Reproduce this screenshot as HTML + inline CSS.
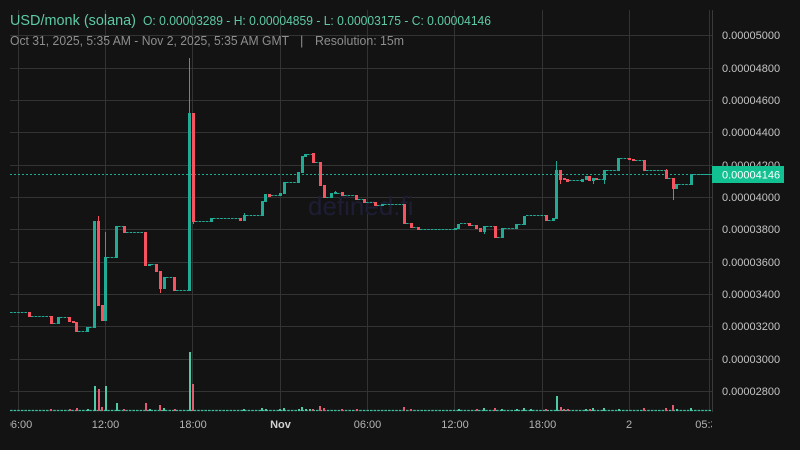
<!DOCTYPE html>
<html><head><meta charset="utf-8"><style>
html,body{margin:0;padding:0;background:#131313;}
svg{display:block;}
</style></head><body>
<svg width="800" height="450" xmlns="http://www.w3.org/2000/svg" font-family="Liberation Sans, sans-serif">
<defs>
<clipPath id="plot"><rect x="10" y="10" width="702" height="402"/></clipPath>
<clipPath id="tax"><rect x="10" y="412" width="702" height="30"/></clipPath>
</defs>
<rect width="800" height="450" fill="#131313"/>
<!-- grid -->
<g stroke="#333333" stroke-width="1">
<line x1="10" x2="712" y1="35.5" y2="35.5"/>
<line x1="10" x2="712" y1="68.5" y2="68.5"/>
<line x1="10" x2="712" y1="100.5" y2="100.5"/>
<line x1="10" x2="712" y1="132.5" y2="132.5"/>
<line x1="10" x2="712" y1="165.5" y2="165.5"/>
<line x1="10" x2="712" y1="197.5" y2="197.5"/>
<line x1="10" x2="712" y1="229.5" y2="229.5"/>
<line x1="10" x2="712" y1="262.5" y2="262.5"/>
<line x1="10" x2="712" y1="294.5" y2="294.5"/>
<line x1="10" x2="712" y1="326.5" y2="326.5"/>
<line x1="10" x2="712" y1="359.5" y2="359.5"/>
<line x1="10" x2="712" y1="391.5" y2="391.5"/>
<line x1="18.5" x2="18.5" y1="10" y2="411"/>
<line x1="105.5" x2="105.5" y1="10" y2="411"/>
<line x1="192.5" x2="192.5" y1="10" y2="411"/>
<line x1="280.5" x2="280.5" y1="10" y2="411"/>
<line x1="367.5" x2="367.5" y1="10" y2="411"/>
<line x1="454.5" x2="454.5" y1="10" y2="411"/>
<line x1="542.5" x2="542.5" y1="10" y2="411"/>
<line x1="629.5" x2="629.5" y1="10" y2="411"/>
<line x1="709.5" x2="709.5" y1="10" y2="411"/>
</g>
<line x1="712.5" x2="712.5" y1="10" y2="412" stroke="#3a3a3a"/>
<!-- watermark -->
<text x="308" y="215" font-size="26" fill="#1d1d36">defined.fi</text>

<g clip-path="url(#plot)">
<!-- volume baseline -->
<line x1="10" x2="712" y1="410.5" y2="410.5" stroke="#3fbf9f" stroke-width="1.2" stroke-dasharray="2.6 1"/>
<g fill="#4fc9a6">
<rect x="94" y="386" width="2" height="25"/><rect x="105" y="386" width="2" height="25"/>
<rect x="116" y="403" width="2" height="8"/><rect x="149" y="409" width="2" height="2"/>
<rect x="163" y="408" width="2" height="3"/><rect x="189" y="352" width="2" height="59"/>
<rect x="87" y="409" width="2" height="2"/><rect x="243" y="409" width="2" height="2"/>
<rect x="261" y="408" width="2" height="3"/><rect x="265" y="409" width="2" height="2"/>
<rect x="279" y="409" width="2" height="2"/><rect x="283" y="408" width="2" height="3"/>
<rect x="298" y="409" width="2" height="2"/><rect x="301" y="407" width="2" height="4"/>
<rect x="305" y="409" width="2" height="2"/><rect x="309" y="409" width="2" height="2"/>
<rect x="458" y="409" width="2" height="2"/><rect x="483" y="408" width="2" height="3"/>
<rect x="501" y="409" width="2" height="2"/><rect x="516" y="409" width="2" height="2"/>
<rect x="523" y="408" width="2" height="3"/><rect x="530" y="409" width="2" height="2"/>
<rect x="556" y="396" width="2" height="15"/><rect x="585" y="409" width="2" height="2"/>
<rect x="592" y="408" width="2" height="3"/><rect x="603" y="408" width="2" height="3"/>
<rect x="618" y="409" width="2" height="2"/><rect x="676" y="409" width="2" height="2"/>
<rect x="690" y="408" width="2" height="3"/>
</g>
<g fill="#e45a72">
<rect x="98" y="389" width="2" height="22"/><rect x="101" y="407" width="2" height="4"/>
<rect x="123" y="409" width="2" height="2"/><rect x="145" y="403" width="2" height="8"/>
<rect x="159" y="405" width="2" height="6"/><rect x="174" y="409" width="2" height="2"/>
<rect x="192" y="384" width="2" height="27"/><rect x="50" y="409" width="2" height="2"/>
<rect x="69" y="409" width="2" height="2"/><rect x="76" y="408" width="2" height="3"/>
<rect x="312" y="409" width="2" height="2"/><rect x="319" y="406" width="2" height="5"/>
<rect x="323" y="408" width="2" height="3"/><rect x="341" y="409" width="2" height="2"/>
<rect x="356" y="409" width="2" height="2"/><rect x="403" y="407" width="2" height="4"/>
<rect x="410" y="409" width="2" height="2"/><rect x="476" y="409" width="2" height="2"/>
<rect x="494" y="408" width="2" height="3"/><rect x="545" y="409" width="2" height="2"/>
<rect x="560" y="407" width="2" height="4"/><rect x="563" y="409" width="2" height="2"/>
<rect x="567" y="409" width="2" height="2"/><rect x="589" y="409" width="2" height="2"/>
<rect x="643" y="408" width="2" height="3"/><rect x="665" y="408" width="2" height="3"/>
<rect x="672" y="405" width="2" height="6"/>
</g>

<!-- current price line -->
<line x1="10" x2="712" y1="174.5" y2="174.5" stroke="#22ab94" stroke-width="1" stroke-dasharray="2 2"/>

<!-- flats -->
<g stroke="#22ab94" stroke-width="1" stroke-dasharray="2.6 1">
<line x1="10" x2="28" y1="312.5" y2="312.5"/>
<line x1="31" x2="50" y1="316.5" y2="316.5"/>
<line x1="53" x2="57" y1="323.5" y2="323.5"/>
<line x1="60" x2="68" y1="317.5" y2="317.5"/>
<line x1="78" x2="86" y1="331.5" y2="331.5"/>
<line x1="89" x2="93" y1="327.5" y2="327.5"/>
<line x1="107" x2="115" y1="257.5" y2="257.5"/>
<line x1="118" x2="123" y1="226.5" y2="226.5"/>
<line x1="126" x2="144" y1="232.5" y2="232.5"/>
<line x1="151" x2="155" y1="264.5" y2="264.5"/>
<line x1="166" x2="173" y1="277.5" y2="277.5"/>
<line x1="176" x2="188" y1="290.5" y2="290.5"/>
<line x1="195" x2="210" y1="221.5" y2="221.5"/>
<line x1="213" x2="239" y1="218.5" y2="218.5"/>
<line x1="246" x2="261" y1="215.5" y2="215.5"/>
<line x1="271" x2="279" y1="195.5" y2="195.5"/>
<line x1="286" x2="297" y1="182.5" y2="182.5"/>
<line x1="307" x2="312" y1="154.5" y2="154.5"/>
<line x1="315" x2="319" y1="162.5" y2="162.5"/>
<line x1="326" x2="330" y1="197.5" y2="197.5"/>
<line x1="337" x2="341" y1="193.5" y2="193.5"/>
<line x1="344" x2="355" y1="195.5" y2="195.5"/>
<line x1="358" x2="363" y1="199.5" y2="199.5"/>
<line x1="366" x2="374" y1="202.5" y2="202.5"/>
<line x1="377" x2="381" y1="205.5" y2="205.5"/>
<line x1="384" x2="403" y1="204.5" y2="204.5"/>
<line x1="406" x2="410" y1="223.5" y2="223.5"/>
<line x1="413" x2="417" y1="227.5" y2="227.5"/>
<line x1="420" x2="454" y1="229.5" y2="229.5"/>
<line x1="460" x2="468" y1="223.5" y2="223.5"/>
<line x1="471" x2="475" y1="225.5" y2="225.5"/>
<line x1="486" x2="494" y1="226.5" y2="226.5"/>
<line x1="497" x2="501" y1="237.5" y2="237.5"/>
<line x1="504" x2="515" y1="228.5" y2="228.5"/>
<line x1="518" x2="523" y1="224.5" y2="224.5"/>
<line x1="526" x2="545" y1="215.5" y2="215.5"/>
<line x1="548" x2="552" y1="220.5" y2="220.5"/>
<line x1="569" x2="581" y1="180.5" y2="180.5"/>
<line x1="598" x2="603" y1="179.5" y2="179.5"/>
<line x1="606" x2="617" y1="170.5" y2="170.5"/>
<line x1="620" x2="628" y1="158.5" y2="158.5"/>
<line x1="635" x2="643" y1="160.5" y2="160.5"/>
<line x1="646" x2="665" y1="170.5" y2="170.5"/>
<line x1="668" x2="672" y1="178.5" y2="178.5"/>
<line x1="678" x2="690" y1="184.5" y2="184.5"/>
<line x1="693" x2="712" y1="174.5" y2="174.5"/>
</g>

<!-- wicks -->
<g stroke-width="1">
<line x1="98.5" x2="98.5" y1="216" y2="221" stroke="#f7525f"/>
<line x1="105.5" x2="105.5" y1="232" y2="257" stroke="#22ab94"/>
<line x1="160.5" x2="160.5" y1="289" y2="293" stroke="#f7525f"/>
<line x1="189.5" x2="189.5" y1="58" y2="113" stroke="#22ab94"/>
<line x1="193.5" x2="193.5" y1="222" y2="224" stroke="#f7525f"/>
<line x1="244.5" x2="244.5" y1="213" y2="215" stroke="#22ab94"/>
<line x1="335.5" x2="335.5" y1="191" y2="192" stroke="#22ab94"/>
<line x1="484.5" x2="484.5" y1="232" y2="234" stroke="#22ab94"/>
<line x1="556.5" x2="556.5" y1="161" y2="170" stroke="#22ab94"/>
<line x1="560.5" x2="560.5" y1="180" y2="184" stroke="#f7525f"/>
<line x1="593.5" x2="593.5" y1="181" y2="184" stroke="#22ab94"/>
<line x1="604.5" x2="604.5" y1="180" y2="184" stroke="#22ab94"/>
<line x1="666.5" x2="666.5" y1="169" y2="170" stroke="#f7525f"/>
<line x1="673.5" x2="673.5" y1="189" y2="200" stroke="#f7525f"/>
</g>

<!-- bodies -->
<g fill="#f7525f">
<rect x="28" y="312" width="3" height="5"/>
<rect x="50" y="316" width="3" height="8"/>
<rect x="68" y="317" width="3" height="5"/>
<rect x="72" y="321" width="3" height="2"/>
<rect x="75" y="322" width="3" height="10"/>
<rect x="97" y="221" width="3" height="85"/>
<rect x="101" y="305" width="3" height="16"/>
<rect x="123" y="226" width="3" height="7"/>
<rect x="144" y="232" width="3" height="34"/>
<rect x="155" y="264" width="3" height="8"/>
<rect x="159" y="271" width="3" height="18"/>
<rect x="173" y="277" width="3" height="14"/>
<rect x="192" y="113" width="3" height="109"/>
<rect x="239" y="218" width="3" height="3"/>
<rect x="268" y="194" width="3" height="3"/>
<rect x="312" y="153" width="3" height="10"/>
<rect x="319" y="162" width="3" height="24"/>
<rect x="323" y="185" width="3" height="13"/>
<rect x="341" y="192" width="3" height="4"/>
<rect x="355" y="195" width="3" height="5"/>
<rect x="363" y="199" width="3" height="4"/>
<rect x="374" y="202" width="3" height="4"/>
<rect x="403" y="204" width="3" height="20"/>
<rect x="410" y="223" width="3" height="5"/>
<rect x="417" y="227" width="3" height="3"/>
<rect x="468" y="223" width="3" height="3"/>
<rect x="475" y="225" width="3" height="4"/>
<rect x="479" y="228" width="3" height="4"/>
<rect x="494" y="226" width="3" height="12"/>
<rect x="545" y="215" width="3" height="6"/>
<rect x="559" y="170" width="3" height="10"/>
<rect x="563" y="178" width="3" height="2"/>
<rect x="566" y="179" width="3" height="3"/>
<rect x="588" y="176" width="3" height="5"/>
<rect x="595" y="178" width="3" height="2"/>
<rect x="628" y="158" width="3" height="2"/>
<rect x="632" y="159" width="3" height="2"/>
<rect x="643" y="160" width="3" height="11"/>
<rect x="665" y="170" width="3" height="9"/>
<rect x="672" y="178" width="3" height="11"/>
</g>
<g fill="#22ab94">
<rect x="57" y="317" width="3" height="7"/>
<rect x="86" y="327" width="3" height="5"/>
<rect x="93" y="221" width="3" height="107"/>
<rect x="104" y="257" width="3" height="64"/>
<rect x="115" y="226" width="3" height="32"/>
<rect x="148" y="264" width="3" height="2"/>
<rect x="163" y="277" width="3" height="12"/>
<rect x="188" y="113" width="3" height="178"/>
<rect x="210" y="218" width="3" height="4"/>
<rect x="243" y="215" width="3" height="6"/>
<rect x="261" y="201" width="3" height="15"/>
<rect x="264" y="194" width="3" height="8"/>
<rect x="279" y="193" width="3" height="3"/>
<rect x="283" y="182" width="3" height="12"/>
<rect x="297" y="172" width="3" height="11"/>
<rect x="301" y="156" width="3" height="17"/>
<rect x="304" y="154" width="3" height="3"/>
<rect x="330" y="193" width="3" height="5"/>
<rect x="334" y="192" width="3" height="2"/>
<rect x="381" y="204" width="3" height="2"/>
<rect x="454" y="228" width="3" height="2"/>
<rect x="457" y="224" width="3" height="5"/>
<rect x="483" y="226" width="3" height="6"/>
<rect x="501" y="228" width="3" height="10"/>
<rect x="515" y="224" width="3" height="5"/>
<rect x="523" y="216" width="3" height="9"/>
<rect x="552" y="218" width="3" height="3"/>
<rect x="555" y="170" width="3" height="49"/>
<rect x="581" y="179" width="3" height="3"/>
<rect x="585" y="176" width="3" height="4"/>
<rect x="592" y="178" width="3" height="3"/>
<rect x="603" y="170" width="3" height="10"/>
<rect x="617" y="158" width="3" height="13"/>
<rect x="675" y="184" width="3" height="5"/>
<rect x="690" y="174" width="3" height="11"/>
</g>
</g>

<!-- price axis labels -->
<g font-size="11" fill="#c4c4c4">
<text x="722" y="39">0.00005000</text>
<text x="722" y="72">0.00004800</text>
<text x="722" y="104">0.00004600</text>
<text x="722" y="136">0.00004400</text>
<text x="722" y="169">0.00004200</text>
<text x="722" y="201">0.00004000</text>
<text x="722" y="233">0.00003800</text>
<text x="722" y="266">0.00003600</text>
<text x="722" y="298">0.00003400</text>
<text x="722" y="330">0.00003200</text>
<text x="722" y="363">0.00003000</text>
<text x="722" y="395">0.00002800</text>
</g>
<rect x="712" y="166" width="72" height="17" fill="#12c192"/>
<text x="722" y="178.5" font-size="11" fill="#ffffff">0.00004146</text>

<!-- time axis -->
<g clip-path="url(#tax)" font-size="11" fill="#b4b4b4" text-anchor="middle">
<text x="18.5" y="428">06:00</text>
<text x="105.5" y="428">12:00</text>
<text x="193" y="428">18:00</text>
<text x="280.5" y="428" font-weight="bold" fill="#d2d2d2">Nov</text>
<text x="367.5" y="428">06:00</text>
<text x="455" y="428">12:00</text>
<text x="542.5" y="428">18:00</text>
<text x="629" y="428">2</text>
<text x="709" y="428">05:30</text>
</g>

<!-- header -->
<text x="10" y="25" font-size="15" fill="#5ecaa8" textLength="126" lengthAdjust="spacingAndGlyphs">USD/monk (solana)</text>
<text x="143" y="25" font-size="12.5" fill="#5ecaa8" textLength="348" lengthAdjust="spacingAndGlyphs">O: 0.00003289 - H: 0.00004859 - L: 0.00003175 - C: 0.00004146</text>
<text x="10" y="45" font-size="13" fill="#8e8e8e" textLength="279" lengthAdjust="spacingAndGlyphs">Oct 31, 2025, 5:35 AM - Nov 2, 2025, 5:35 AM GMT</text>
<text x="300" y="45" font-size="13" fill="#8e8e8e">|</text>
<text x="315" y="45" font-size="13" fill="#8e8e8e" textLength="89" lengthAdjust="spacingAndGlyphs">Resolution: 15m</text>
</svg>
</body></html>
